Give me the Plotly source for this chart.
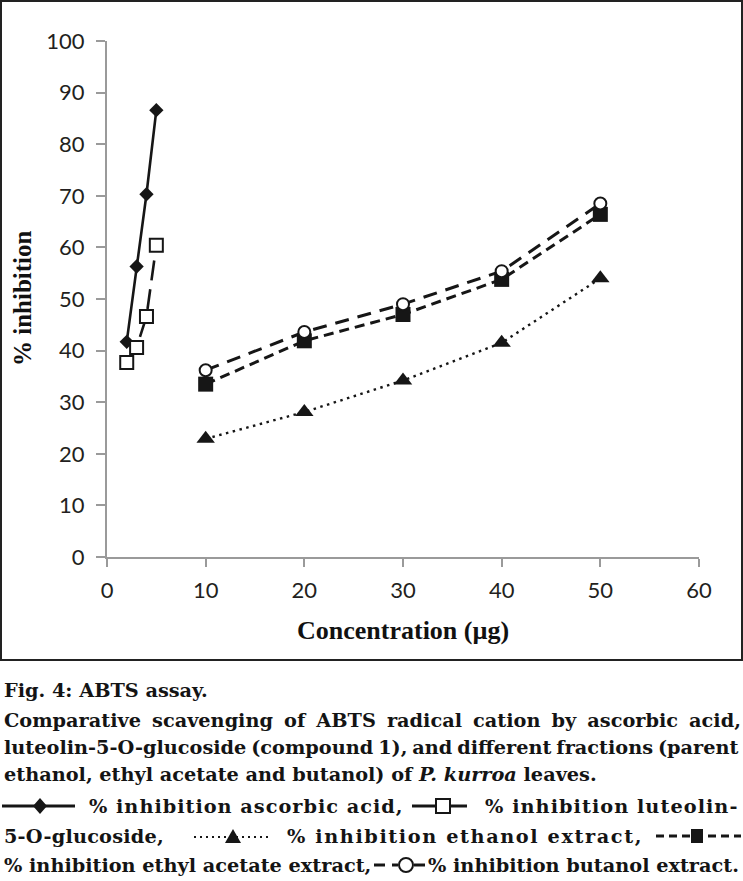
import plotly.graph_objects as go

# ---------------- data ----------------
conc_std = [2, 3, 4, 5]
ascorbic = [41.7, 56.3, 70.3, 86.6]
luteolin = [37.7, 40.6, 46.6, 60.4]

conc_ext = [10, 20, 30, 40, 50]
ethanol = [22.9, 28.1, 34.2, 41.5, 54.0]
ethyl_acetate = [33.5, 41.9, 47.0, 53.8, 66.4]
butanol = [36.2, 43.6, 49.0, 55.4, 68.5]

x_ticks = [0, 10, 20, 30, 40, 50, 60]
y_ticks = [0, 10, 20, 30, 40, 50, 60, 70, 80, 90, 100]

caption_title = "Fig. 4: ABTS assay."
caption_body = [
    "Comparative scavenging of ABTS radical cation by ascorbic acid,",
    "luteolin-5-O-glucoside (compound 1), and different fractions (parent",
    "ethanol, ethyl acetate and butanol) of <i>P. kurroa</i> leaves.",
]
legend_texts = [
    "% inhibition ascorbic acid,",
    "% inhibition luteolin-",
    "5-O-glucoside,",
    "% inhibition ethanol extract,",
    "% inhibition ethyl acetate extract,",
    "% inhibition butanol extract.",
]

# ---------------- layout constants ----------------
FW, FH = 743, 881
ML, MR, MT, MB = 107, 44, 41, 324
PW = FW - ML - MR
PH = FH - MT - MB
BOTTOM = FH - MB


def px_x(px):
    return (px - ML) / PW


def px_y(py):
    return (BOTTOM - py) / PH


INK = "#161616"
AXIS = "#9a9a9a"
CAP_FONT = dict(family="DejaVu Serif", size=19.3, color="#141414")

fig = go.Figure()

fig.add_trace(go.Scatter(
    x=conc_std, y=ascorbic, mode="lines+markers", name="ascorbic acid",
    line=dict(color=INK, width=2.6),
    marker=dict(symbol="diamond", size=11, color=INK)))

fig.add_trace(go.Scatter(
    x=conc_std, y=luteolin, mode="lines+markers", name="luteolin-5-O-glucoside",
    line=dict(color=INK, width=2.6, dash="20px,9px"),
    marker=dict(symbol="square", size=13, color="white",
                line=dict(color=INK, width=2))))

fig.add_trace(go.Scatter(
    x=conc_ext, y=ethanol, mode="lines+markers", name="ethanol extract",
    line=dict(color=INK, width=2.4, dash="2.5px,4.5px"),
    marker=dict(symbol="triangle-up", size=16, color=INK)))

fig.add_trace(go.Scatter(
    x=conc_ext, y=ethyl_acetate, mode="lines+markers", name="ethyl acetate extract",
    line=dict(color=INK, width=3, dash="10px,6px"),
    marker=dict(symbol="square", size=15, color=INK)))

fig.add_trace(go.Scatter(
    x=conc_ext, y=butanol, mode="lines+markers", name="butanol extract",
    line=dict(color=INK, width=3, dash="14px,9px"),
    marker=dict(symbol="circle", size=12, color="white",
                line=dict(color=INK, width=2))))

axis_common = dict(
    showgrid=False, zeroline=False, showline=True, linecolor=AXIS, linewidth=2,
    ticks="outside", tickcolor=AXIS, tickwidth=2, automargin=False,
    tickfont=dict(family="Lato", size=22, color="#231f20"),
)

fig.update_xaxes(range=[0, 60], tickvals=x_ticks, ticklen=8,
                 ticklabelstandoff=5, **axis_common)
fig.update_yaxes(range=[0, 100], tickvals=y_ticks, ticklen=9,
                 ticklabelstandoff=7, **axis_common)

annotations = [
    dict(text="<b>% inhibition</b>", xref="paper", yref="paper",
         x=px_x(22), y=px_y(298), textangle=-90, showarrow=False,
         xanchor="center", yanchor="middle",
         font=dict(family="Liberation Serif", size=25, color="#111")),
    dict(text="<b>Concentration (µg)</b>", xref="paper", yref="paper",
         x=px_x(403), y=px_y(630), showarrow=False,
         xanchor="center", yanchor="middle",
         font=dict(family="Liberation Serif", size=26, color="#111")),
]


def cap(text, px, cy, anchor="left", ws=0.0, ls=0.0):
    body = "<b>" + text + "</b>"
    style = []
    if ws:
        style.append("word-spacing:%.1fpx" % ws)
    if ls:
        style.append("letter-spacing:%.2fpx" % ls)
    if style:
        body = '<span style="%s">' % ";".join(style) + body + "</span>"
    annotations.append(dict(
        text=body, xref="paper", yref="paper",
        x=px_x(px), y=px_y(cy), showarrow=False,
        xanchor=anchor, yanchor="middle", font=CAP_FONT))


# caption paragraph (line centres in pixels)
cap(caption_title, 2, 690)
cap(caption_body[0], 2, 720, ws=4.4)
cap(caption_body[1], 2, 747, ws=-1.8)
cap(caption_body[2], 2, 775)

# legend lines
cap(legend_texts[0], 87, 806, ls=1.0)
cap(legend_texts[1], 741, 806, anchor="right", ls=1.05)
cap(legend_texts[2], 2, 836, ls=0.2)
cap(legend_texts[3], 285, 836, ls=1.6)
cap(legend_texts[4], 2, 865)
cap(legend_texts[5], 741, 865, anchor="right")

# ---------------- border and legend keys drawn in the caption ----------------
shapes = [dict(type="rect", xref="paper", yref="paper",
               x0=px_x(1), x1=px_x(742), y0=px_y(660), y1=px_y(1),
               line=dict(color="#222", width=2), fillcolor="rgba(0,0,0,0)")]


def seg(x0, x1, y, dash="solid", w=3):
    shapes.append(dict(type="line", xref="paper", yref="paper",
                       x0=px_x(x0), x1=px_x(x1), y0=px_y(y), y1=px_y(y),
                       line=dict(color=INK, width=w, dash=dash)))


def poly(pts, fill=INK, lw=0):
    path = "M" + " L".join("%.5f,%.5f" % (px_x(a), px_y(b)) for a, b in pts) + " Z"
    shapes.append(dict(type="path", xref="paper", yref="paper", path=path,
                       fillcolor=fill, line=dict(color=INK, width=lw)))


def circ(cx, cy, r):
    shapes.append(dict(type="circle", xref="paper", yref="paper",
                       x0=px_x(cx - r), x1=px_x(cx + r),
                       y0=px_y(cy + r), y1=px_y(cy - r),
                       fillcolor="white", line=dict(color=INK, width=2)))


# key 1: solid + diamond
seg(2, 75, 806)
poly([(40, 798), (47, 806), (40, 814), (33, 806)])
# key 2: solid + open square
seg(412, 467, 806)
poly([(436, 799), (450, 799), (450, 813), (436, 813)], fill="white", lw=2)
# key 3: dotted + triangle
seg(194, 272, 837, dash="2px,4px", w=2.2)
poly([(225, 843), (241, 843), (233, 829)])
# key 4: dashed + filled square
seg(656, 741, 836, dash="8px,5px", w=3)
poly([(691, 829), (703, 829), (703, 843), (691, 843)])
# key 5: long dash + open circle
seg(374, 385, 865)
seg(392, 398, 865)
seg(414, 425, 865)
circ(406, 865, 7)

fig.update_layout(
    width=FW, height=FH,
    margin=dict(l=ML, r=MR, t=MT, b=MB),
    paper_bgcolor="white", plot_bgcolor="white",
    showlegend=False,
    annotations=annotations,
    shapes=shapes,
)

fig.write_html("out.html", config={"displayModeBar": False},
               post_script="document.body.style.margin='0';document.body.style.padding='0';")
